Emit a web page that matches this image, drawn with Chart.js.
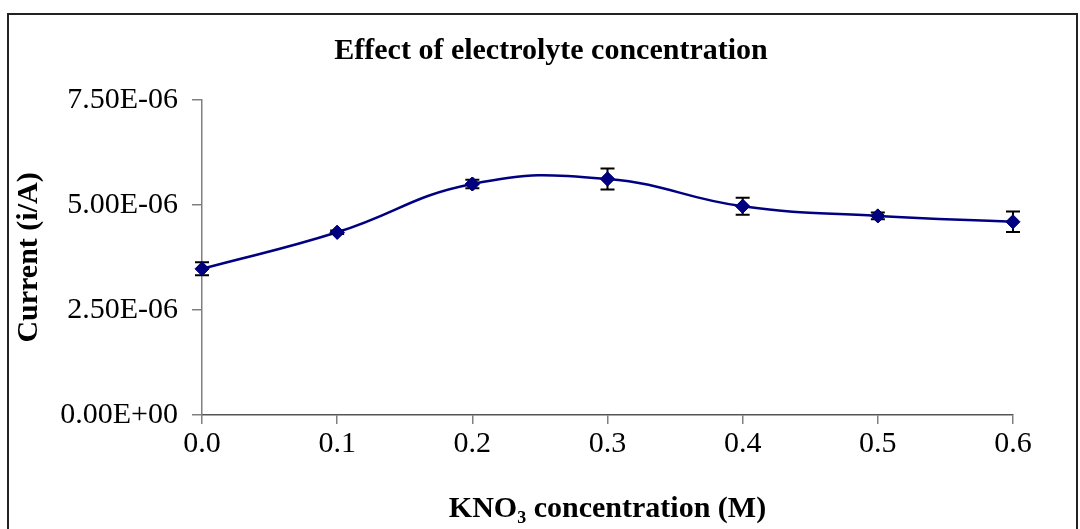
<!DOCTYPE html>
<html>
<head>
<meta charset="utf-8">
<script src="https://cdn.jsdelivr.net/npm/chart.js@4"></script>
<style>
    html, body { margin: 0; padding: 0; background: #fff; width: 1080px; height: 529px; overflow: hidden; }
    .frame { position: absolute; left: 7px; top: 13px; width: 1071px; height: 600px; box-sizing: border-box; border: 2px solid #222; }
    .holder { position: absolute; left: 0; top: 0; width: 1102px; height: 529px; }
</style>
</head>
<body>
<div class="frame"></div>
<div class="holder"><canvas id="chart"></canvas></div>
<script>
// KNO3 concentration (M)
const concentrations = [0.0, 0.1, 0.2, 0.3, 0.4, 0.5, 0.6];
// current (A)
const currents = [3.48e-6, 4.35e-6, 5.50e-6, 5.62e-6, 4.97e-6, 4.74e-6, 4.60e-6];
// error bar half-lengths (A)
const errors = [0.155e-6, 0.04e-6, 0.10e-6, 0.25e-6, 0.20e-6, 0.08e-6, 0.245e-6];

const xTicks = [0.0, 0.1, 0.2, 0.3, 0.4, 0.5, 0.6];
const yTicks = [0, 2.5e-6, 5.0e-6, 7.5e-6];

const fontFamily = '"Liberation Serif", "Times New Roman", serif';
const navy = '#000080';
const axisGrey = '#808080';

// Excel style 7.50E-06
function sci(v) {
    const parts = v.toExponential(2).split('e');
    const n = parseInt(parts[1], 10);
    return parts[0] + 'E' + (n < 0 ? '-' : '+') + String(Math.abs(n)).padStart(2, '0');
}

// draws the vertical error bars with caps
const errorBars = {
    id: 'errorBars',
    afterDatasetsDraw(chart) {
        const ctx = chart.ctx;
        const xs = chart.scales.x;
        const ys = chart.scales.y;
        ctx.save();
        ctx.strokeStyle = '#000';
        ctx.lineWidth = 2;
        concentrations.forEach((c, i) => {
            const px = xs.getPixelForValue(c);
            const top = ys.getPixelForValue(currents[i] + errors[i]);
            const bot = ys.getPixelForValue(currents[i] - errors[i]);
            ctx.beginPath();
            ctx.moveTo(px, top); ctx.lineTo(px, bot);
            ctx.moveTo(px - 7, top); ctx.lineTo(px + 7, top);
            ctx.moveTo(px - 7, bot); ctx.lineTo(px + 7, bot);
            ctx.stroke();
        });
        ctx.restore();
        // markers back on top of the bars
        chart.getDatasetMeta(0).data.forEach(pt => pt.draw(ctx));
    }
};

const ctx = document.getElementById('chart');
new Chart(ctx, {
    type: 'line',
    data: {
        datasets: [{
            data: concentrations.map((c, i) => ({ x: c, y: currents[i] })),
            borderColor: navy,
            borderWidth: 2.5,
            backgroundColor: navy,
            pointStyle: 'rectRot',
            pointRadius: 7,
            pointBorderWidth: 1,
            pointBackgroundColor: navy,
            pointBorderColor: navy,
            tension: 0.45,
            fill: false
        }]
    },
    options: {
        responsive: true,
        maintainAspectRatio: false,
        animation: false,
        layout: { padding: 0 },
        plugins: {
            legend: { display: false },
            tooltip: { enabled: false },
            title: {
                display: true,
                text: 'Effect of electrolyte concentration',
                color: '#000',
                font: { family: fontFamily, size: 30, weight: 'bold' },
                padding: { top: 33, bottom: 31 }
            }
        },
        scales: {
            x: {
                type: 'linear',
                min: 0,
                max: 0.6,
                afterBuildTicks: s => { s.ticks = xTicks.map(v => ({ value: v })); },
                afterFit: s => { s.height = 114; },
                grid: { display: true, drawOnChartArea: false, color: axisGrey, tickLength: 9, lineWidth: 1.5 },
                border: { display: true, color: '#555', width: 1.5 },
                ticks: {
                    color: '#000',
                    font: { family: fontFamily, size: 30 },
                    padding: 2,
                    maxRotation: 0,
                    callback: v => Number(v).toFixed(1)
                },
                title: {
                    display: true,
                    text: 'KNO\u2083 concentration (M)',
                    color: '#000',
                    font: { family: fontFamily, size: 30, weight: 'bold' },
                    padding: { top: 0, bottom: 2 }
                }
            },
            y: {
                min: 0,
                max: 7.5e-6,
                afterBuildTicks: s => { s.ticks = yTicks.map(v => ({ value: v })); },
                afterFit: s => { s.width = 202; },
                grid: { display: true, drawOnChartArea: false, color: axisGrey, tickLength: 10, lineWidth: 1.5 },
                border: { display: true, color: axisGrey, width: 1.5 },
                ticks: {
                    color: '#000',
                    font: { family: fontFamily, size: 30 },
                    padding: 14,
                    callback: v => sci(v)
                },
                title: {
                    display: true,
                    text: 'Current (i/A)',
                    color: '#000',
                    font: { family: fontFamily, size: 30, weight: 'bold' },
                    padding: { top: 11, bottom: 0 }
                }
            },
            spacer: {
                position: 'right',
                display: true,
                grid: { display: false },
                border: { display: false },
                ticks: { display: false },
                afterFit: s => { s.width = 89; }
            }
        }
    },
    plugins: [errorBars]
});
</script>
</body>
</html>
